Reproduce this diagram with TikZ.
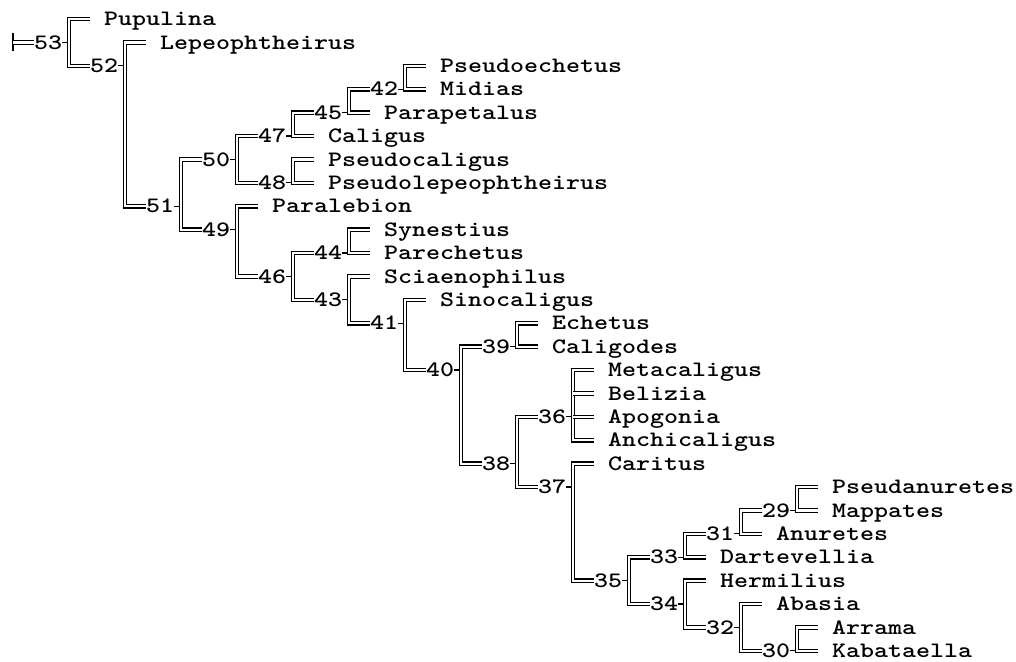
\documentclass[tikz,border=0pt]{standalone}
\usepackage{graphicx}
\newcommand{\tx}[1]{\scalebox{1.212}[1]{#1}}
\tikzset{
  taxon/.style={anchor=west, inner sep=0pt, text height=13.4pt, text depth=0pt,
    font=\ttfamily\bfseries\fontsize{22}{22}\selectfont},
  clade/.style={taxon, anchor=center},
  branch/.style={draw=black, line width=1.2pt, double=white, double distance=2.2pt},
  tick/.style={draw=black, line width=1.1pt},
}
\begin{document}
\begin{tikzpicture}[x=14pt, y=-23.4pt]
\useasboundingbox (-0.4286,-0.812) rectangle (72.1429,27.4786);

% taxa, one per text row
\node[taxon] (Pupulina) at (7,0) {\tx{Pupulina}};
\node[taxon] (Lepeophtheirus) at (11,1) {\tx{Lepeophtheirus}};
\node[taxon] (Pseudoechetus) at (31,2) {\tx{Pseudoechetus}};
\node[taxon] (Midias) at (31,3) {\tx{Midias}};
\node[taxon] (Parapetalus) at (27,4) {\tx{Parapetalus}};
\node[taxon] (Caligus) at (23,5) {\tx{Caligus}};
\node[taxon] (Pseudocaligus) at (23,6) {\tx{Pseudocaligus}};
\node[taxon] (Pseudolepeophtheirus) at (23,7) {\tx{Pseudolepeophtheirus}};
\node[taxon] (Paralebion) at (19,8) {\tx{Paralebion}};
\node[taxon] (Synestius) at (27,9) {\tx{Synestius}};
\node[taxon] (Parechetus) at (27,10) {\tx{Parechetus}};
\node[taxon] (Sciaenophilus) at (27,11) {\tx{Sciaenophilus}};
\node[taxon] (Sinocaligus) at (31,12) {\tx{Sinocaligus}};
\node[taxon] (Echetus) at (39,13) {\tx{Echetus}};
\node[taxon] (Caligodes) at (39,14) {\tx{Caligodes}};
\node[taxon] (Metacaligus) at (43,15) {\tx{Metacaligus}};
\node[taxon] (Belizia) at (43,16) {\tx{Belizia}};
\node[taxon] (Apogonia) at (43,17) {\tx{Apogonia}};
\node[taxon] (Anchicaligus) at (43,18) {\tx{Anchicaligus}};
\node[taxon] (Caritus) at (43,19) {\tx{Caritus}};
\node[taxon] (Pseudanuretes) at (59,20) {\tx{Pseudanuretes}};
\node[taxon] (Mappates) at (59,21) {\tx{Mappates}};
\node[taxon] (Anuretes) at (55,22) {\tx{Anuretes}};
\node[taxon] (Dartevellia) at (51,23) {\tx{Dartevellia}};
\node[taxon] (Hermilius) at (51,24) {\tx{Hermilius}};
\node[taxon] (Abasia) at (55,25) {\tx{Abasia}};
\node[taxon] (Arrama) at (59,26) {\tx{Arrama}};
\node[taxon] (Kabataella) at (59,27) {\tx{Kabataella}};

% clade numbers
\node[clade] (n53) at (3,1) {\tx{53}};
\node[clade] (n52) at (7,2) {\tx{52}};
\node[clade] (n51) at (11,8) {\tx{51}};
\node[clade] (n50) at (15,6) {\tx{50}};
\node[clade] (n49) at (15,9) {\tx{49}};
\node[clade] (n47) at (19,5) {\tx{47}};
\node[clade] (n48) at (19,7) {\tx{48}};
\node[clade] (n46) at (19,11) {\tx{46}};
\node[clade] (n45) at (23,4) {\tx{45}};
\node[clade] (n44) at (23,10) {\tx{44}};
\node[clade] (n43) at (23,12) {\tx{43}};
\node[clade] (n42) at (27,3) {\tx{42}};
\node[clade] (n41) at (27,13) {\tx{41}};
\node[clade] (n40) at (31,15) {\tx{40}};
\node[clade] (n39) at (35,14) {\tx{39}};
\node[clade] (n38) at (35,19) {\tx{38}};
\node[clade] (n36) at (39,17) {\tx{36}};
\node[clade] (n37) at (39,20) {\tx{37}};
\node[clade] (n35) at (43,24) {\tx{35}};
\node[clade] (n33) at (47,23) {\tx{33}};
\node[clade] (n34) at (47,25) {\tx{34}};
\node[clade] (n31) at (51,22) {\tx{31}};
\node[clade] (n32) at (51,26) {\tx{32}};
\node[clade] (n29) at (55,21) {\tx{29}};
\node[clade] (n30) at (55,27) {\tx{30}};

% bar points
\coordinate (root) at (0.5,1);
\coordinate (b53) at (4.5,1);
\coordinate (b52) at (8.5,2);
\coordinate (b51) at (12.5,8);
\coordinate (b50) at (16.5,6);
\coordinate (b49) at (16.5,9);
\coordinate (b47) at (20.5,5);
\coordinate (b48) at (20.5,7);
\coordinate (b46) at (20.5,11);
\coordinate (b45) at (24.5,4);
\coordinate (b44) at (24.5,10);
\coordinate (b43) at (24.5,12);
\coordinate (b42) at (28.5,3);
\coordinate (b41) at (28.5,13);
\coordinate (b40) at (32.5,15);
\coordinate (b39) at (36.5,14);
\coordinate (b38) at (36.5,19);
\coordinate (b36) at (40.5,17);
\coordinate (b37) at (40.5,20);
\coordinate (b35) at (44.5,24);
\coordinate (b33) at (48.5,23);
\coordinate (b34) at (48.5,25);
\coordinate (b31) at (52.5,22);
\coordinate (b32) at (52.5,26);
\coordinate (b29) at (56.5,21);
\coordinate (b30) at (56.5,27);

% ticks
\draw[tick] ([yshift=9pt]root) -- ([yshift=-9pt]root);
\draw[tick] (n53.east) -- (b53);
\draw[tick] (n52.east) -- (b52);
\draw[tick] (n51.east) -- (b51);
\draw[tick] (n50.east) -- (b50);
\draw[tick] (n49.east) -- (b49);
\draw[tick] (n47.east) -- (b47);
\draw[tick] (n48.east) -- (b48);
\draw[tick] (n46.east) -- (b46);
\draw[tick] (n45.east) -- (b45);
\draw[tick] (n44.east) -- (b44);
\draw[tick] (n43.east) -- (b43);
\draw[tick] (n42.east) -- (b42);
\draw[tick] (n41.east) -- (b41);
\draw[tick] (n40.east) -- (b40);
\draw[tick] (n39.east) -- (b39);
\draw[tick] (n38.east) -- (b38);
\draw[tick] (n36.east) -- (b36);
\draw[tick] (n37.east) -- (b37);
\draw[tick] (n35.east) -- (b35);
\draw[tick] (n33.east) -- (b33);
\draw[tick] (n34.east) -- (b34);
\draw[tick] (n31.east) -- (b31);
\draw[tick] (n32.east) -- (b32);
\draw[tick] (n29.east) -- (b29);
\draw[tick] (n30.east) -- (b30);

% branches
\draw[branch] (root) -- (n53.west);
\draw[branch] ([xshift=-14pt]Pupulina.west) -| (b53) |- (n52.west);
\draw[branch] ([xshift=-14pt]Lepeophtheirus.west) -| (b52) |- (n51.west);
\draw[branch] (n50.west) -| (b51) |- (n49.west);
\draw[branch] (n47.west) -| (b50) |- (n48.west);
\draw[branch] (n45.west) -| (b47) -- ([xshift=-14pt]Caligus.west);
\draw[branch] (n42.west) -| (b45) -- ([xshift=-14pt]Parapetalus.west);
\draw[branch] ([xshift=-14pt]Pseudoechetus.west) -| (b42) -- ([xshift=-14pt]Midias.west);
\draw[branch] ([xshift=-14pt]Pseudocaligus.west) -| (b48) -- ([xshift=-14pt]Pseudolepeophtheirus.west);
\draw[branch] ([xshift=-14pt]Paralebion.west) -| (b49) |- (n46.west);
\draw[branch] (n44.west) -| (b46) |- (n43.west);
\draw[branch] ([xshift=-14pt]Synestius.west) -| (b44) -- ([xshift=-14pt]Parechetus.west);
\draw[branch] ([xshift=-14pt]Sciaenophilus.west) -| (b43) |- (n41.west);
\draw[branch] ([xshift=-14pt]Sinocaligus.west) -| (b41) |- (n40.west);
\draw[branch] (n39.west) -| (b40) |- (n38.west);
\draw[branch] ([xshift=-14pt]Echetus.west) -| (b39) -- ([xshift=-14pt]Caligodes.west);
\draw[branch] (n36.west) -| (b38) |- (n37.west);
\draw[branch] ([xshift=-14pt]Metacaligus.west) -| (b36) |- ([xshift=-14pt]Anchicaligus.west);
\draw[branch] ([xshift=-14pt]Belizia.west) -- (b36 |- Belizia.west);
\draw[branch] ([xshift=-14pt]Apogonia.west) -- (b36 |- Apogonia.west);
\draw[branch] ([xshift=-14pt]Caritus.west) -| (b37) |- (n35.west);
\draw[branch] (n33.west) -| (b35) |- (n34.west);
\draw[branch] (n31.west) -| (b33) -- ([xshift=-14pt]Dartevellia.west);
\draw[branch] (n29.west) -| (b31) -- ([xshift=-14pt]Anuretes.west);
\draw[branch] ([xshift=-14pt]Pseudanuretes.west) -| (b29) -- ([xshift=-14pt]Mappates.west);
\draw[branch] ([xshift=-14pt]Hermilius.west) -| (b34) |- (n32.west);
\draw[branch] ([xshift=-14pt]Abasia.west) -| (b32) |- (n30.west);
\draw[branch] ([xshift=-14pt]Arrama.west) -| (b30) -- ([xshift=-14pt]Kabataella.west);

\end{tikzpicture}
\end{document}
